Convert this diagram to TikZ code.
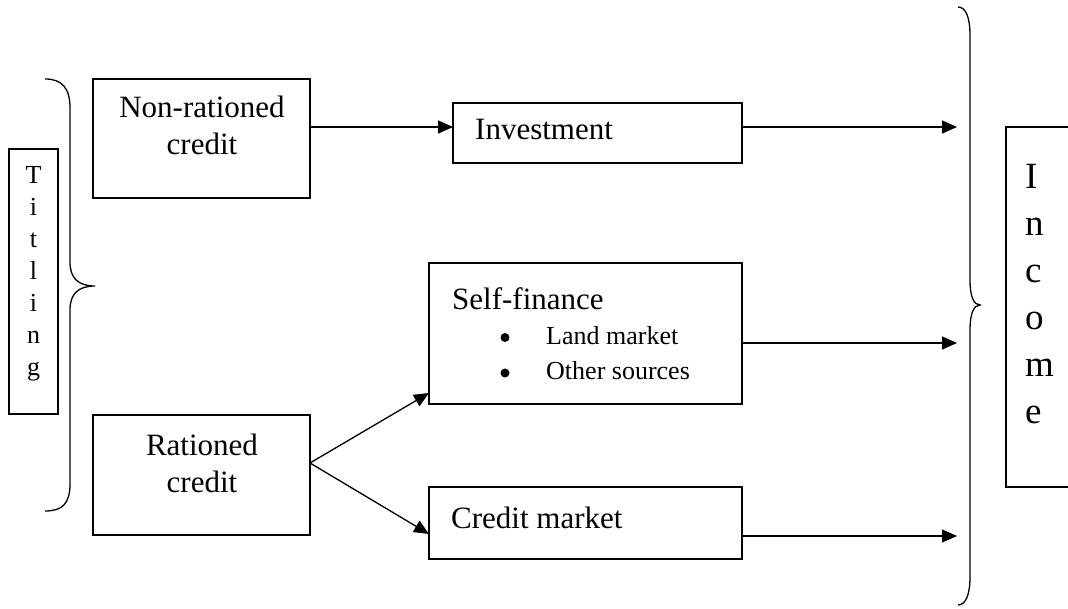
\documentclass[tikz,border=0pt]{standalone}
\usepackage{fontspec}
\setmainfont{Liberation Serif}
\usetikzlibrary{arrows.meta,calc}
\begin{document}
\begin{tikzpicture}[x=1pt,y=-1pt,
  box/.style={draw,line width=1.6pt,inner sep=0pt,outer sep=0pt},
  arr/.style={line width=1.3pt,-{Triangle[length=15pt,width=13pt]}},
  big/.style={font=\fontsize{31}{37}\selectfont,inner sep=0pt},
  small/.style={font=\fontsize{26}{35}\selectfont,inner sep=0pt},
  bullet/.style={circle,fill,inner sep=0pt,minimum size=9pt},
  brace/.style={line width=1.3pt}]
\useasboundingbox (0,0) rectangle (1068,609);
\fill[white] (0,0) rectangle (1068,609);

% boxes
\node[box,minimum width=49pt,minimum height=265pt] (tit) at (33.5,281.5) {};
\node[box,minimum width=217pt,minimum height=119pt] (nr) at (201.5,138.5) {};
\node[box,minimum width=289pt,minimum height=60pt] (inv) at (597.5,133) {};
\node[box,minimum width=313pt,minimum height=141pt] (sf) at (585.5,333.5) {};
\node[box,minimum width=217pt,minimum height=120pt] (rc) at (201.5,475) {};
\node[box,minimum width=313pt,minimum height=72pt] (cm) at (585.5,523) {};
\begin{scope}
\clip (0,0) rectangle (1068,609);
\node[box,minimum width=80pt,minimum height=360pt] (inc) at (1046,307) {};
\end{scope}

% texts
\node[font=\fontsize{26}{32}\selectfont,align=center,inner sep=0pt,anchor=north] (titt) at (33.5,166) {T\\i\\t\\l\\i\\n\\g};
\node[font=\fontsize{37}{47}\selectfont,align=left,inner sep=0pt,anchor=north west] (inct) at (1025,164) {I\\n\\c\\o\\m\\e};
\node[big,anchor=base] (nr1) at (202,118) {Non-rationed};
\node[big,anchor=base] (nr2) at (202,155) {credit};
\node[big,anchor=base west] (invt) at (475,140) {Investment};
\node[big,anchor=base west] (sft) at (452,310) {Self-finance};
\node[bullet] (b1) at (505,337.5) {};
\node[small,anchor=base west] (lm) at (546,345) {Land market};
\node[bullet] (b2) at (505,373) {};
\node[small,anchor=base west] (os) at (546,380) {Other sources};
\node[big,anchor=base] (rc1) at (202,455) {Rationed};
\node[big,anchor=base] (rc2) at (202,492) {credit};
\node[big,anchor=base west] (cmt) at (451,528) {Credit market};

% connector ends
\coordinate (a) at (0,127);
\coordinate (o) at (0,463);
\coordinate (t1) at (0,393);
\coordinate (t2) at (0,534);
\coordinate (e1) at (957,127);
\coordinate (e2) at (957,343);
\coordinate (e3) at (957,536);

% arrows
\draw[arr] (nr.east |- a) -- (inv.west |- a);
\draw[arr] (inv.east |- e1) -- (e1);
\draw[arr] (sf.east |- e2) -- (e2);
\draw[arr] (cm.east |- e3) -- (e3);
\draw[arr] (rc.east |- o) -- (sf.west |- t1);
\draw[arr] (rc.east |- o) -- (cm.west |- t2);

% braces
\draw[brace] (45,79) .. controls (62,79) and (70,88) .. (70,108) -- (70,262)
  .. controls (70,278) and (78,286) .. (95,286)
  .. controls (78,286) and (70,294) .. (70,310) -- (70,484)
  .. controls (70,504) and (62,511) .. (45,511);
\draw[brace] (958,7) .. controls (966,7) and (970,18) .. (970,35) -- (970,280)
  .. controls (970,297) and (974,305) .. (980,305)
  .. controls (974,305) and (970,313) .. (970,330) -- (970,577)
  .. controls (970,594) and (966,605) .. (958,605);
\end{tikzpicture}
\end{document}
